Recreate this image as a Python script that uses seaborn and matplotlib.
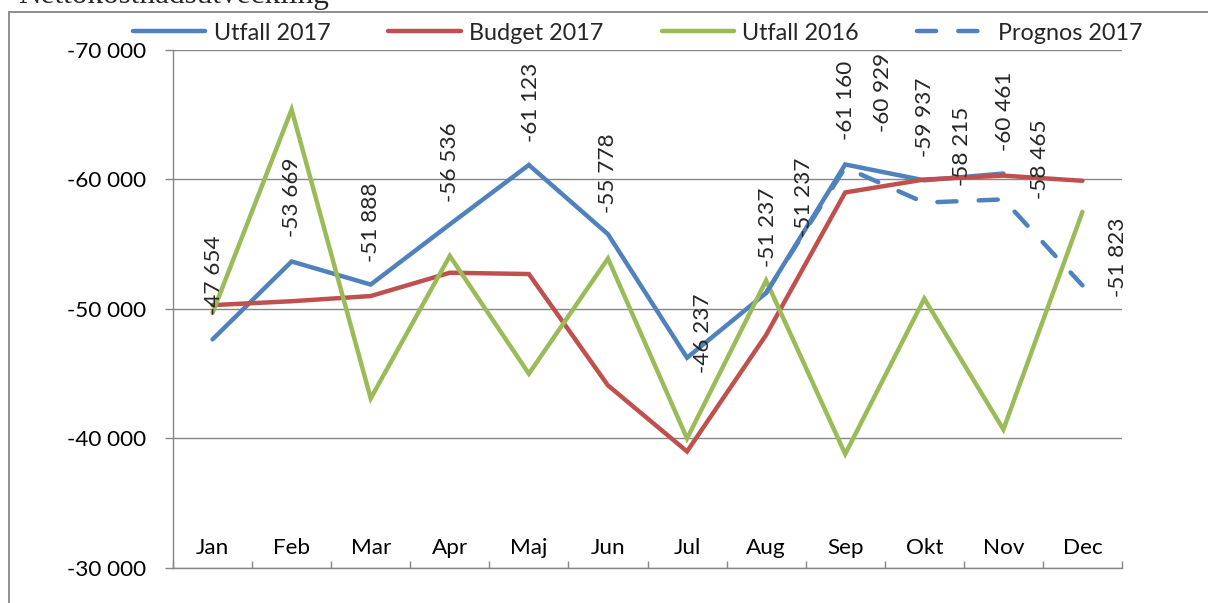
import numpy as np
import pandas as pd
import matplotlib
matplotlib.use('Agg')
import matplotlib.pyplot as plt
from matplotlib.lines import Line2D
import seaborn as sns

# —— data —— #
months = ['Jan', 'Feb', 'Mar', 'Apr', 'Maj', 'Jun', 'Jul', 'Aug', 'Sep', 'Okt', 'Nov', 'Dec']

utfall_2017 = [-47654, -53669, -51888, -56536, -61123, -55778, -46237, -51237, -61160, -59937, -60461]
budget_2017 = [-50300, -50600, -51000, -52800, -52700, -44100, -39000, -48000, -59000, -60000, -60300, -59900]
utfall_2016 = [-49700, -65400, -43100, -54100, -45000, -53900, -40000, -52200, -38800, -50800, -40700, -57500]
prognos_months = ['Aug', 'Sep', 'Okt', 'Nov', 'Dec']
prognos_2017 = [-51237, -60929, -58215, -58465, -51823]

series_names = ['Utfall 2017', 'Budget 2017', 'Utfall 2016', 'Prognos 2017']
y_ticks = [-70000, -60000, -50000, -40000, -30000]

# label offsets in pixels (dx, dy) from each point
utfall_offsets = [(1, 64), (0, 64), (0, 62), (0, 62), (2, 63), (0, 61),
                  (16, 24), (2, 66), (1, 64), (1, 63), (2, 62)]
prognos_offsets = [(38, 96), (38, 75), (38, 56), (37, 40), (36, 28)]

colors = {'Utfall 2017': '#4F81BD', 'Budget 2017': '#C0504D',
          'Utfall 2016': '#9BBB59', 'Prognos 2017': '#4F81BD'}

FS = 16.2


def fmt(v):
    return f'{v:,.0f}'.replace(',', ' ')


def main():
    sns.set_style('white')
    plt.rcParams['font.family'] = ['Lato', 'DejaVu Sans']

    # long table for seaborn
    pos_u17 = list(range(len(utfall_2017)))
    pos_all = list(range(len(months)))
    pos_prog = [months.index(m) for m in prognos_months]
    df = pd.concat([
        pd.DataFrame({'pos': pos_u17, 'value': utfall_2017, 'serie': 'Utfall 2017'}),
        pd.DataFrame({'pos': pos_all, 'value': budget_2017, 'serie': 'Budget 2017'}),
        pd.DataFrame({'pos': pos_all, 'value': utfall_2016, 'serie': 'Utfall 2016'}),
        pd.DataFrame({'pos': pos_prog, 'value': prognos_2017, 'serie': 'Prognos 2017'}),
    ], ignore_index=True)

    fig = plt.figure(figsize=(12.08, 6.03), dpi=100)
    ax = fig.add_axes([173 / 1208, 1 - 568 / 603, (1122 - 173) / 1208, (568 - 50) / 603])

    sns.lineplot(
        data=df, x='pos', y='value', hue='serie', style='serie',
        hue_order=series_names, style_order=series_names,
        palette=colors,
        dashes={'Utfall 2017': '', 'Budget 2017': '', 'Utfall 2016': '', 'Prognos 2017': (4.3, 5.0)},
        linewidth=3.2, legend=False, ax=ax, sort=False,
    )
    lines = ax.lines[:4]
    for ln in lines:
        ln.set_solid_capstyle('round')
        ln.set_dash_capstyle('round')
        ln.set_solid_joinstyle('miter')

    # axes
    ax.set_xlim(-0.5, len(months) - 0.5)
    ax.set_ylim(-30000, -70000)
    ax.set_yticks(y_ticks)
    ax.set_yticklabels([fmt(v) for v in y_ticks])
    ax.set_xticks(pos_all)
    ax.set_xticklabels(months)
    ax.set_xticks(np.arange(-0.5, len(months)), minor=True)
    ax.set_xlabel('')
    ax.set_ylabel('')

    ax.grid(axis='y', color='#868686', linewidth=1.0)
    ax.grid(axis='x', visible=False)
    ax.set_axisbelow(True)
    for s in ['top', 'right']:
        ax.spines[s].set_visible(False)
    for s in ['left', 'bottom']:
        ax.spines[s].set_color('#868686')
        ax.spines[s].set_linewidth(1.0)

    ax.tick_params(axis='y', which='major', left=True, length=6, width=1, color='#868686',
                   pad=13, labelsize=FS, labelcolor='black')
    ax.tick_params(axis='x', which='major', bottom=False, length=0, pad=-14.4,
                   labelsize=FS, labelcolor='black')
    ax.tick_params(axis='x', which='minor', bottom=True, direction='in', length=5,
                   width=1, color='#868686')
    for lab in ax.get_xticklabels():
        lab.set_va('center')

    # data labels
    for i, v in enumerate(utfall_2017):
        dx, dy = utfall_offsets[i]
        ax.annotate(fmt(v), (i, v), xytext=(dx, dy), textcoords='offset pixels',
                    rotation=90, ha='center', va='center', fontsize=FS)
    for p, v, (dx, dy) in zip(pos_prog, prognos_2017, prognos_offsets):
        ax.annotate(fmt(v), (p, v), xytext=(dx, dy), textcoords='offset pixels',
                    rotation=90, ha='center', va='center', fontsize=FS)

    # legend
    ax.legend(lines, series_names, loc='center left', ncol=4, frameon=False,
              bbox_to_anchor=(133 / 1208, 1 - 33 / 603), bbox_transform=fig.transFigure,
              borderpad=0, borderaxespad=0, handlelength=3.1, handletextpad=0.35,
              columnspacing=2.5, fontsize=16.8)

    # chart frame + cut title
    fig.add_artist(Line2D([9 / 1208, 9 / 1208], [0, 1 - 12 / 603], transform=fig.transFigure,
                          color='#868686', linewidth=1.3))
    fig.add_artist(Line2D([9 / 1208, 1], [1 - 12 / 603, 1 - 12 / 603], transform=fig.transFigure,
                          color='#868686', linewidth=1.3))
    fig.text(18 / 1208, 1 - 3 / 603, 'Nettokostnadsutveckling', family='Liberation Serif',
             fontsize=22.5, va='baseline', ha='left')

    fig.savefig('out.png', dpi=100)


if __name__ == '__main__':
    main()
